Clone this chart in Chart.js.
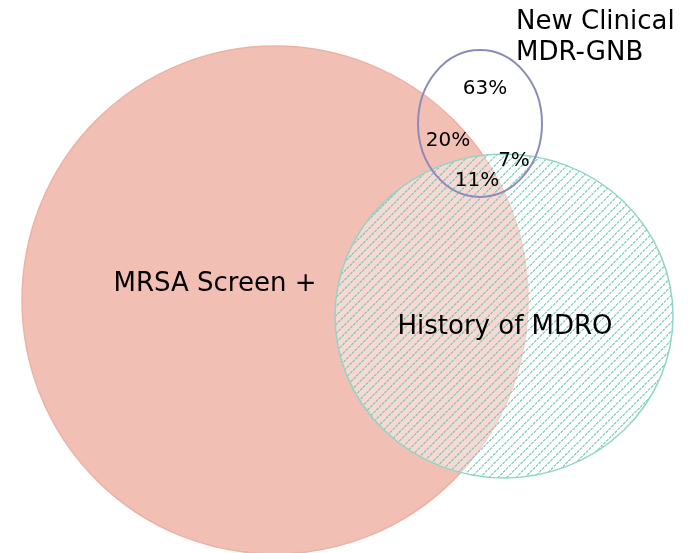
<!DOCTYPE html>
<html lang="en">
<head>
    <meta charset="UTF-8">
    <title>Venn diagram</title>
    <script src="https://cdn.jsdelivr.net/npm/chart.js"></script>
    <style>
        body {
            margin: 0;
            background: #ffffff;
        }
        #wrap {
            width: 688px;
            height: 553px;
        }
    </style>
</head>
<body>
    <div id="wrap">
        <canvas id="venn"></canvas>
    </div>
    <script>
        // sets: center x, center y, radius x, radius y (in chart units)
        var setNames = ['MRSA Screen +', 'History of MDRO', 'New Clinical MDR-GNB'];
        var centerX = [275, 504, 480];
        var centerY = [300, 316, 123.5];
        var radiusX = [253, 169, 62];
        var radiusY = [254, 162, 73.5];

        // region labels
        var regionText = ['MRSA Screen +', 'History of MDRO', '63%', '20%', '7%', '11%'];
        var regionX = [215, 505, 485, 448, 514, 477];
        var regionY = [284, 327, 89, 141, 161, 181];
        var regionSize = [26, 26, 20, 20, 20, 20];

        // title of the small set, sits outside the circles
        var titleLines = ['New Clinical', 'MDR-GNB'];
        var titleX = 516;
        var titleY = [22, 53];

        function ellipsePath(ctx, chart, i) {
            var sx = chart.scales.x, sy = chart.scales.y;
            var cx = sx.getPixelForValue(centerX[i]);
            var cy = sy.getPixelForValue(centerY[i]);
            var rx = Math.abs(sx.getPixelForValue(centerX[i] + radiusX[i]) - cx);
            var ry = Math.abs(sy.getPixelForValue(centerY[i] + radiusY[i]) - cy);
            ctx.beginPath();
            ctx.ellipse(cx, cy, rx, ry, 0, 0, Math.PI * 2);
            return {cx: cx, cy: cy, rx: rx, ry: ry};
        }

        var vennPlugin = {
            id: 'venn',
            afterDatasetsDraw: function (chart) {
                var ctx = chart.ctx;
                ctx.save();

                // MRSA circle
                ellipsePath(ctx, chart, 0);
                ctx.fillStyle = '#f2bfb4';
                ctx.fill();
                ctx.strokeStyle = '#eeb2a5';
                ctx.lineWidth = 1.5;
                ctx.stroke();

                // History of MDRO circle, light wash + dashed hatching
                var e = ellipsePath(ctx, chart, 1);
                ctx.fillStyle = 'rgba(255,255,255,0.4)';
                ctx.fill();
                ctx.save();
                ctx.clip();
                ctx.strokeStyle = '#70c6b5';
                ctx.lineWidth = 1.1;
                ctx.setLineDash([3, 1]);
                var left = e.cx - e.rx, right = e.cx + e.rx;
                var top = e.cy - e.ry, bottom = e.cy + e.ry;
                var h = bottom - top;
                for (var x = Math.floor(left - h); x < right + 9; x += 9) {
                    ctx.beginPath();
                    ctx.moveTo(x + 0.5, bottom);
                    ctx.lineTo(x + 0.5 + h, top);
                    ctx.stroke();
                }
                ctx.restore();
                ellipsePath(ctx, chart, 1);
                ctx.strokeStyle = '#8fd6c8';
                ctx.lineWidth = 1.5;
                ctx.stroke();

                // New clinical MDR-GNB outline
                ellipsePath(ctx, chart, 2);
                ctx.strokeStyle = '#8c8cbc';
                ctx.lineWidth = 2;
                ctx.stroke();

                // labels
                var sx = chart.scales.x, sy = chart.scales.y;
                ctx.fillStyle = '#000000';
                ctx.textAlign = 'center';
                ctx.textBaseline = 'middle';
                for (var i = 0; i < regionText.length; i++) {
                    ctx.font = regionSize[i] + 'px "DejaVu Sans", Verdana, sans-serif';
                    ctx.fillText(regionText[i], sx.getPixelForValue(regionX[i]), sy.getPixelForValue(regionY[i]));
                }
                ctx.textAlign = 'left';
                ctx.font = '26px "DejaVu Sans", Verdana, sans-serif';
                for (var j = 0; j < titleLines.length; j++) {
                    ctx.fillText(titleLines[j], sx.getPixelForValue(titleX), sy.getPixelForValue(titleY[j]));
                }
                ctx.restore();
            }
        };

        var data = {
            datasets: setNames.map(function (name, i) {
                return {
                    label: name,
                    data: [{x: centerX[i], y: centerY[i]}],
                    pointRadius: 0
                };
            })
        };

        var ctx = document.getElementById('venn').getContext('2d');
        new Chart(ctx, {
            type: 'scatter',
            data: data,
            options: {
                responsive: true,
                maintainAspectRatio: false,
                animation: false,
                layout: { padding: 0 },
                plugins: {
                    legend: { display: false },
                    tooltip: { enabled: false }
                },
                scales: {
                    x: { display: false, min: 0, max: 688 },
                    y: { display: false, min: 0, max: 553, reverse: true }
                }
            },
            plugins: [vennPlugin]
        });
    </script>
</body>
</html>
